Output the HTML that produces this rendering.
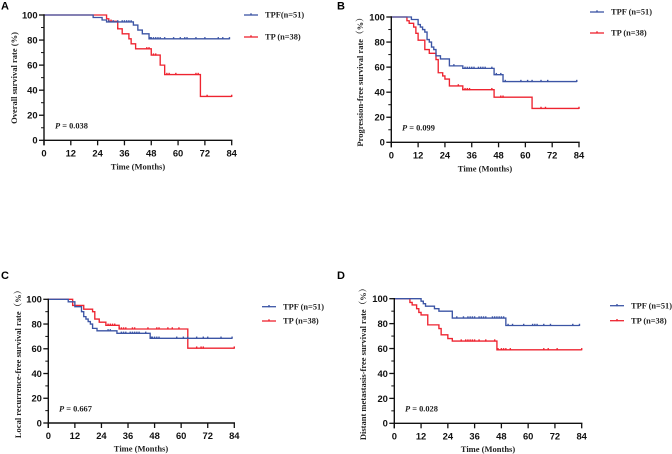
<!DOCTYPE html>
<html>
<head>
<meta charset="utf-8">
<style>
html,body{margin:0;padding:0;background:#fff;width:672px;height:454px;overflow:hidden}
svg{display:block}
.tick{font:bold 9.4px "Liberation Sans",sans-serif;fill:#111}
.title{font:bold 8.5px "Liberation Serif","Noto Serif CJK SC",serif;fill:#222}
.leg{font:bold 8.4px "Liberation Serif",serif;fill:#222}
.pv{font:bold 8.4px "Liberation Serif",serif;fill:#222}
.letter{font:bold 11px "Liberation Sans",sans-serif;fill:#000}
</style>
</head>
<body>
<svg id="figure" width="672" height="454" viewBox="0 0 672 454" xmlns="http://www.w3.org/2000/svg">
<g style="filter:blur(0.35px)" id="root"></g>
</svg>
<script>
var xTicks = [0,12,24,36,48,60,72,84];
var yTicks = [0,20,40,60,80,100];
var yMinorTicks = [10,30,50,70,90];

var aTpfTimes = [0,22,26,28,40,42,44,47,83];
var aTpfRates = [100,98,96,94.5,92,88,85,81,81];
var aTpfCensor = [29,31,33,35,36,37,38,39,47.5,48,49,50,51,52,54,58,61,63,64,68,72,78,80,83];
var aTpTimes = [0,28,29,33,35,38,39,41,48,52,54,70,84];
var aTpRates = [100,97,95,89,85,81,77,73,68,60,52.5,35,35];
var aTpCensor = [30,33,46,47,49,50,55,56,59,68,69,73,84];

var bTpfTimes = [0,9,12,13,14,15,16,17,18,19,20,22,26,32,46,50,83];
var bTpfRates = [100,98,94,92,90,88,82,80,76,74,69,66.5,61,59,54,48.5,48.5];
var bTpfCensor = [28,33,34,35,36,37,39,40,41,42,45,47,49,51,58,61,63,67,70,83];
var bTpTimes = [0,7,8,10,11,12,15,17,20,21,23,24,26,32,46,63,84];
var bTpRates = [100,97,95,92,87,81.5,74,71,66,55.5,53,50.5,45,42,36,27,27];
var bTpCensor = [30,32,33,34,35,45,49,50,67,69,84];

var cTpfTimes = [0,9,12,15,16,17,18,19,20,22,31,46,83];
var cTpfRates = [100,98,94,90,86,84,82,80,76.5,74.5,72.5,68.5,68.5];
var cTpfCensor = [27,28,33,34,35,37,38,39,40,41,44,46.5,47,48,49,50,58,61,63,67,70,72,78,83];
var cTpTimes = [0,11,15,16,20,21,23,26,32,63,84];
var cTpRates = [100,95,95,92,90,84,81.5,79,76,60.5,60.5];
var cTpCensor = [27,28,29,30,32,33,34,35,38,39,45,49,50,54,56,59,67,69,70,84];

var dTpfTimes = [0,12,13,14,18,20,26,50,83];
var dTpfRates = [100,98,96,94,92,90,84.5,78.5,78.5];
var dTpfCensor = [28,31,33,34,35,36,38,39,40,41,44,45,46,47,48,49,51,53,58,62,63,64,67,70,80,83];
var dTpTimes = [0,7,8,10,11,12,15,20,21,24,26,46,84];
var dTpRates = [100,97,95,92,89,87,79,76,71,68,66,59,59];
var dTpCensor = [30,32,33,34,35,36,38,41,45,46.5,48,49,50,52,67,69,73,84];

var BLUE = '#3c55a5';
var RED = '#ee2430';
var NS = 'http://www.w3.org/2000/svg';
var root = document.getElementById('root');

function make(tag, attrs, parent, text) {
  var el = document.createElementNS(NS, tag);
  for (var k in attrs) el.setAttribute(k, attrs[k]);
  if (text !== undefined) el.textContent = text;
  parent.appendChild(el);
  return el;
}

function drawSeries(g, sx, sy, times, rates, censor, color, name) {
  var d = 'M' + sx(times[0]) + ' ' + sy(rates[0]);
  for (var i = 1; i < times.length; i++) {
    d += 'H' + sx(times[i]) + 'V' + sy(rates[i]);
  }
  var line = make('path', {d: d, fill: 'none', stroke: color, 'stroke-width': 1.35}, g);
  
  
  censor.forEach(function (t) {
    var r = rates[0];
    for (var i = 0; i < times.length; i++) { if (times[i] <= t) r = rates[i]; }
    var m = make('rect', {x: sx(t) - 0.7, y: sy(r) - 1.7, width: 1.4, height: 2.2, fill: color}, g);
    
    
  });
}

function drawPanel(p) {
  var g = make('g', {}, root);
  
  
  var sx = function (v) { return p.x0 + (p.x1 - p.x0) * v / 84; };
  var sy = function (v) { return p.y0 + (p.y100 - p.y0) * v / 100; };

  var letter = make('text', {x: p.lx, y: p.ly, class: 'letter'}, g, p.letter);
  
  

  drawSeries(g, sx, sy, p.tp[0], p.tp[1], p.tp[2], RED, 'tp');
  drawSeries(g, sx, sy, p.tpf[0], p.tpf[1], p.tpf[2], BLUE, 'tpf');

  var xAxis = make('line', {x1: sx(0) - 0.7, x2: sx(84) + 0.7, y1: sy(0), y2: sy(0), stroke: '#111', 'stroke-width': 1.4}, g);
  
  
  var yAxis = make('line', {x1: sx(0), x2: sx(0), y1: sy(0) + 5, y2: sy(100) - 0.7, stroke: '#111', 'stroke-width': 1.4}, g);
  
  

  xTicks.forEach(function (t) {
    var tk = make('line', {x1: sx(t), x2: sx(t), y1: sy(0), y2: sy(0) + 5, stroke: '#111', 'stroke-width': 1.3}, g);
    
    
    var lb = make('text', {x: sx(t), y: sy(0) + 16, 'text-anchor': 'middle', class: 'tick'}, g, String(t));
    
    
  });
  yTicks.forEach(function (t) {
    var tk = make('line', {x1: sx(0) - 5, x2: sx(0), y1: sy(t), y2: sy(t), stroke: '#111', 'stroke-width': 1.3}, g);
    
    
    var lb = make('text', {x: sx(0) - 6.4, y: sy(t) + 3.4, 'text-anchor': 'end', class: 'tick'}, g, String(t));
    
    
  });
  yMinorTicks.forEach(function (t) {
    var tk = make('line', {x1: sx(0) - 3, x2: sx(0), y1: sy(t), y2: sy(t), stroke: '#111', 'stroke-width': 1}, g);
    
    
  });

  var xt = make('text', {x: p.xtx, y: p.xty, 'text-anchor': 'middle', class: 'title'}, g, 'Time (Months)');
  
  
  var yt = make('text', {transform: 'translate(' + p.ytx + ',' + p.yty + ') rotate(-90)', 'text-anchor': 'middle', class: 'title'}, g, p.yTitle);
  
  

  var pv = make('text', {x: p.px, y: p.py, class: 'pv'}, g);
  
  
  make('tspan', {'font-style': 'italic'}, pv, 'P');
  make('tspan', {}, pv, ' = ' + p.pValue);

  var rows = [[p.legY1, BLUE, p.tpfLabel, 'tpf'], [p.legY2, RED, 'TP (n=38)', 'tp']];
  rows.forEach(function (row) {
    var e = make('g', {}, g);
    
    
    make('line', {x1: p.legX, x2: p.legX + 14, y1: row[0], y2: row[0], stroke: row[1], 'stroke-width': 1.3}, e);
    make('rect', {x: p.legX + 6.3, y: row[0] - 1.7, width: 1.4, height: 2.2, fill: row[1]}, e);
    make('text', {x: p.legX + 21, y: row[0] + 2.7, class: 'leg'}, e, row[2]);
  });
}

drawPanel({letter: 'A', lx: 1, ly: 9.5, x0: 44, x1: 231.7, y0: 140.3, y100: 15,
  tpf: [aTpfTimes, aTpfRates, aTpfCensor], tp: [aTpTimes, aTpRates, aTpCensor],
  xtx: 138, xty: 169.5, ytx: 17, yty: 78, yTitle: 'Overall survival rate (%)',
  px: 55, py: 128.5, pValue: '0.038', legX: 244, legY1: 15, legY2: 37, tpfLabel: 'TPF(n=51)'});
drawPanel({letter: 'B', lx: 337, ly: 9.5, x0: 391.3, x1: 579, y0: 142.3, y100: 17,
  tpf: [bTpfTimes, bTpfRates, bTpfCensor], tp: [bTpTimes, bTpRates, bTpCensor],
  xtx: 485, xty: 171.5, ytx: 363, yty: 80, yTitle: 'Progression-free survival rate\uFF08%\uFF09',
  px: 402, py: 130.5, pValue: '0.099', legX: 590, legY1: 12, legY2: 33, tpfLabel: 'TPF (n=51)'});
drawPanel({letter: 'C', lx: 1, ly: 279, x0: 48.3, x1: 234.3, y0: 423, y100: 299.3,
  tpf: [cTpfTimes, cTpfRates, cTpfCensor], tp: [cTpTimes, cTpRates, cTpCensor],
  xtx: 141, xty: 451.5, ytx: 21, yty: 362, yTitle: 'Local recurrence-free survival rate\uFF08%\uFF09',
  px: 59, py: 411.5, pValue: '0.667', legX: 262, legY1: 306.7, legY2: 321, tpfLabel: 'TPF (n=51)'});
drawPanel({letter: 'D', lx: 337, ly: 279, x0: 394.3, x1: 581.7, y0: 423.3, y100: 298.7,
  tpf: [dTpfTimes, dTpfRates, dTpfCensor], tp: [dTpTimes, dTpRates, dTpCensor],
  xtx: 488, xty: 452, ytx: 366, yty: 362, yTitle: 'Distant metastasis-free survival rate\uFF08%\uFF09',
  px: 405, py: 411.5, pValue: '0.028', legX: 610, legY1: 305.7, legY2: 320.7, tpfLabel: 'TPF (n=51)'});
</script>
</body>
</html>
